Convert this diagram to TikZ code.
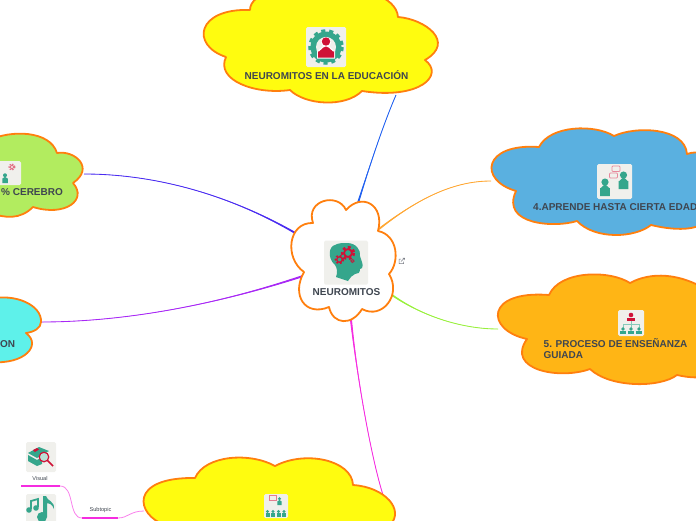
\documentclass[tikz,border=0pt]{standalone}
\usepackage{fontspec}
\setmainfont{Liberation Sans}
\definecolor{ink}{HTML}{3F4650}
\definecolor{cloudline}{HTML}{FF7F0E}
\definecolor{yellowfill}{HTML}{FFFC0F}
\definecolor{greenfill}{HTML}{B2EC5F}
\definecolor{bluefill}{HTML}{5AB0E0}
\definecolor{amberfill}{HTML}{FFB515}
\definecolor{cyanfill}{HTML}{5EF1EA}
\definecolor{iconfill}{HTML}{F0F0EC}
\definecolor{teal}{HTML}{35A68C}
\definecolor{crimson}{HTML}{CF1237}
\definecolor{bluelink}{HTML}{2060F0}
\definecolor{violetlink}{HTML}{4A2CF0}
\definecolor{purplelink}{HTML}{A828F5}
\definecolor{orangelink}{HTML}{FFA733}
\definecolor{limelink}{HTML}{98F03C}
\definecolor{magentalink}{HTML}{F52CE0}
\newcommand{\titlefont}{\fontsize{10}{11.2}\selectfont\bfseries}
\newcommand{\smallfont}{\fontsize{5.6}{6.4}\selectfont}
\tikzset{
 every node/.append style={text=ink,align=left},
 cloud/.style={draw=cloudline,line width=1.8pt,line join=round},
 title/.style={font=\titlefont,inner sep=0pt},
 word/.style={font=\smallfont,inner sep=0pt},
 icon/.style={fill=iconfill,rounded corners=1.5pt,inner sep=0pt,minimum size=#1},
 sublink/.style={draw=magentalink!60,line width=.8pt},
 rule/.style={draw=magentalink,line width=1.4pt},
 tealshape/.style={fill=teal},
 redshape/.style={fill=crimson},
}
% tapered connector: from, control, control, to, half width x, half width y, colour
\newcommand{\taperlink}[7]{
  \fill[#7] ([shift={(#5,#6)}]#1) .. controls (#2) and (#3) .. (#4)
    .. controls (#3) and (#2) .. ([shift={(-#5,-#6)}]#1) -- cycle;
  \draw[#7,line width=.85pt] (#1) .. controls (#2) and (#3) .. (#4);
}
% gear: x, y, radius, colour
\newcommand{\gearmark}[4]{
  \draw[#4,line width=#3*.4pt,dash pattern=on #3*.42pt off #3*.42pt] (#1,#2) circle[radius=#3*.9];
  \draw[#4,line width=#3*.28pt] (#1,#2) circle[radius=#3*.62];
}
% person: x, y, size, style
\newcommand{\personmark}[4]{
  \fill[#4] (#1,#2-#3*.55) circle[radius=#3*.4];
  \fill[#4] (#1-#3*.55,#2+#3) -- (#1-#3*.55,#2+#3*.1) to[out=-90,in=180] (#1,#2-#3*.25) to[out=0,in=-90] (#1+#3*.55,#2+#3*.1) -- (#1+#3*.55,#2+#3) -- cycle;
}
\begin{document}
\begin{tikzpicture}[x=1pt,y=-1pt]
\useasboundingbox (0,0) rectangle (696,520);
\clip (0,0) rectangle (696,520);

\coordinate (toplink) at (396,95);
\coordinate (brainlink) at (84,174);
\coordinate (ageslink) at (491,181);
\coordinate (guidedlink) at (498,329);
\coordinate (cyanlink) at (41,322);
\coordinate (lowerlink) at (383,495);
\coordinate (centertop) at (357,206);
\coordinate (centerleft) at (297,234);
\coordinate (centerlow) at (303,276);
\coordinate (centerright) at (379,229);
\coordinate (centerlime) at (392,295);
\coordinate (centerbottom) at (351,320);

\taperlink{centertop}{370,165}{383,125}{toplink}{1}{.3}{bluelink}
\taperlink{centerleft}{225,192}{150,174}{brainlink}{.4}{-.9}{violetlink}
\taperlink{centerlow}{200,310}{110,322}{cyanlink}{.3}{1}{purplelink}
\taperlink{centerright}{420,197}{455,181}{ageslink}{.5}{.8}{orangelink}
\taperlink{centerlime}{425,318}{465,329}{guidedlink}{.5}{-.8}{limelink}
\taperlink{centerbottom}{358,385}{372,460}{lowerlink}{1}{-.1}{magentalink}

% central cloud
\draw[cloud,fill=white] (313,223) .. controls (305,200) and (338,192) .. (346,210)
  .. controls (362,192) and (385,205) .. (378,231)
  .. controls (398,235) and (400,262) .. (389,274)
  .. controls (402,295) and (382,320) .. (362,309)
  .. controls (352,326) and (333,325) .. (329,307)
  .. controls (305,317) and (291,295) .. (304,272)
  .. controls (284,258) and (288,222) .. (313,223) -- cycle;

% top cloud
\draw[cloud,fill=yellowfill] (250,10) .. controls (250,-25) and (395,-25) .. (398,17)
  .. controls (425,19) and (456,42) .. (425,60)
  .. controls (445,75) and (420,100) .. (362,91)
  .. controls (345,108) and (305,105) .. (290,90)
  .. controls (255,95) and (215,80) .. (226,57)
  .. controls (190,45) and (197,8) .. (250,10) -- cycle;

% green cloud
\draw[cloud,fill=greenfill] (-10,140) .. controls (10,130) and (50,130) .. (57,153)
  .. controls (75,150) and (95,168) .. (73,183)
  .. controls (88,200) and (65,217) .. (33,207)
  .. controls (20,220) and (5,218) .. (-10,213) -- cycle;

% cyan cloud
\draw[cloud,fill=cyanfill] (-10,299) .. controls (15,293) and (42,305) .. (41,322)
  .. controls (41,328) and (34,332) .. (26,333)
  .. controls (42,345) and (25,365) .. (-10,362) -- cycle;

% blue cloud
\draw[cloud,fill=bluefill] (539,147) .. controls (550,125) and (595,124) .. (614,136)
  .. controls (635,126) and (685,127) .. (687,154)
  .. controls (692,152) and (700,152) .. (710,154)
  -- (710,215) .. controls (705,230) and (680,232) .. (651,225)
  .. controls (635,238) and (595,240) .. (577,221)
  .. controls (555,228) and (500,225) .. (516,191)
  .. controls (478,180) and (483,143) .. (539,147) -- cycle;

% amber cloud
\draw[cloud,fill=amberfill] (549,295) .. controls (560,270) and (610,270) .. (630,283)
  .. controls (650,272) and (680,272) .. (710,292)
  -- (710,376) .. controls (700,378) and (690,378) .. (677,375)
  .. controls (660,388) and (610,388) .. (590,369)
  .. controls (560,380) and (505,370) .. (527,339)
  .. controls (485,330) and (485,290) .. (549,295) -- cycle;

% lower cloud
\draw[cloud,fill=yellowfill] (195,478) .. controls (205,455) and (250,452) .. (275,466)
  .. controls (305,450) and (352,460) .. (353,485)
  .. controls (385,487) and (405,510) .. (390,525)
  -- (165,525) .. controls (136,515) and (128,477) .. (195,478) -- cycle;

% central icon
\node[icon=44pt] (headicon) at (346,262.5) {};
\fill[tealshape] (347,243) .. controls (356,243) and (361,250) .. (360,256)
  .. controls (361,260) and (364,265) .. (362,268) -- (360,269) .. controls (360,273) and (358,274) .. (355,274)
  .. controls (352,275) and (350,278) .. (348,281) -- (336,277) .. controls (338,272) and (337,268) .. (335,265)
  .. controls (327,258) and (329,246) .. (335,245) .. controls (338,243) and (343,243) .. (347,243) -- cycle;
\gearmark{348}{253}{6.4}{crimson}
\gearmark{339.5}{259.5}{4.4}{crimson}
\gearmark{352.5}{261}{2.1}{crimson}
\node[title] (centerlabel) at (346.5,292) {NEUROMITOS};
\draw[ink!70,line width=.5pt] (401,259) -- (399,259) -- (399,263.5) -- (403.5,263.5) -- (403.5,261.5) (401,261.5) -- (404.5,258) (402.5,258) -- (404.5,258) -- (404.5,260);

% top icon
\node[icon=40pt] (gearicon) at (326,47) {};
\draw[teal,line width=3.5pt,dash pattern=on 4pt off 3.85pt] (326,47) circle[radius=16];
\fill[teal] (326,47) circle[radius=15.5];
\fill[iconfill] (326,47) circle[radius=10];
\fill[white] (326,42) circle[radius=5.2];
\fill[white] (317,58.5) -- (317,50) to[out=-90,in=180] (326,45) to[out=0,in=-90] (335,50) -- (335,58.5) -- cycle;
\fill[crimson] (326,41.5) circle[radius=4.2];
\fill[crimson] (318,57.5) -- (318,51) to[out=-90,in=180] (326,46.5) to[out=0,in=-90] (334,51) -- (334,57.5) -- cycle;
\node[title] (toplabel) at (326.5,75) {NEUROMITOS EN LA EDUCACIÓN};

% green icon
\node[icon=24pt] (brainicon) at (9,173) {};
\personmark{5}{178}{5}{tealshape}
\gearmark{12}{167}{3.2}{crimson!60}
\node[title,anchor=west] (brainlabel) at (1,192) {\% CEREBRO};

% cyan label
\node[title,anchor=west] (cyanlabel) at (0,344) {ON};

% blue icon
\node[icon=35pt] (talkicon) at (614.5,181.5) {};
\personmark{605}{187}{9}{tealshape}
\personmark{623.5}{180}{9}{tealshape}
\draw[crimson!50,fill=iconfill,line width=.7pt,rounded corners=.8pt] (612,166) rectangle (620,171.5);
\draw[crimson!50,fill=iconfill,line width=.7pt,rounded corners=.8pt] (609.5,173) rectangle (617.5,178);
\node[title,anchor=west] (ageslabel) at (533,207) {4.APRENDE HASTA CIERTA EDAD};

% amber icon
\node[icon=26pt] (treeicon) at (631,323) {};
\fill[crimson] (631,315) circle[radius=2.3];
\fill[crimson] (627,317.5) rectangle (635,321);
\draw[teal!60,line width=.5pt] (631,321) -- (631,324) (623,328) -- (623,324) -- (639,324) -- (639,328) (631,324) -- (631,328);
\foreach \px in {623,631,639}{
  \fill[teal] (\px,329) circle[radius=1.8];
  \fill[teal] (\px-2.7,331) rectangle (\px+2.7,334);
}
\node[title,anchor=north west] (guidedlabel) at (543.5,338.5) {5. PROCESO DE ENSEÑANZA\\GUIADA};

% lower icon
\node[icon=24pt] (classicon) at (276,506) {};
\draw[crimson!55,fill=iconfill,line width=.6pt] (269.5,495.5) rectangle (276,500.5);
\personmark{279.5}{501}{4}{tealshape}
\foreach \px in {267.5,273,278.5,284}{
  \fill[teal] (\px,511.5) circle[radius=1.7];
  \fill[teal] (\px-2,513) rectangle (\px+2,517);
}

% subtopics
\coordinate (visualleft) at (21,486);
\coordinate (visualright) at (60,486);
\coordinate (subleft) at (82,518);
\coordinate (subright) at (118,518);
\coordinate (lowerleft) at (144,511);
\draw[rule] (visualleft) -- (visualright);
\draw[rule] (subleft) -- (subright);
\draw[sublink] (visualright) .. controls (75,486) and (68,518) .. (subleft);
\draw[sublink] (subright) .. controls (128,518) and (130,511) .. (lowerleft);

\node[icon=30pt] (visualicon) at (41,457) {};
\begin{scope}[shift={(41,457)}]
  \fill[teal] (-13,-4) -- (-2,-10) -- (8,-6) -- (-4,1) -- cycle;
  \fill[teal] (-13,-2) -- (-4,3) -- (1,0) -- (1,7) -- (-4,9) -- (-13,4) -- cycle;
  \fill[crimson] (-8,-7) -- (-4,-9) -- (-2,-7.5) -- (-6,-5) -- cycle;
  \draw[crimson,fill=teal!35,line width=1.2pt] (3,0) circle[radius=4.8];
  \draw[crimson,line width=1.6pt] (6.3,3.3) -- (12,9);
\end{scope}
\node[word] (visuallabel) at (40,478.5) {Visual};
\node[word] (sublabel) at (100.5,510.5) {Subtopic};

\node[icon=30pt] (musicicon) at (41,509) {};
\begin{scope}[shift={(41,509)}]
  \draw[teal,line width=1.8pt] (-10,0) -- (-10,-8) -- (-3,-10) -- (-3,-2);
  \fill[teal] (-12,1) circle[radius=2.8];
  \fill[teal] (-5,-1) circle[radius=2.8];
  \fill[teal] (2,-13) -- (5,-13) .. controls (6,-8) and (14,-8) .. (13,0) .. controls (11,-5) and (8,-6) .. (6,-6) -- (6,8) -- (2,8) -- cycle;
  \fill[teal] (1,8) circle[radius=5];
\end{scope}
\end{tikzpicture}
\end{document}
